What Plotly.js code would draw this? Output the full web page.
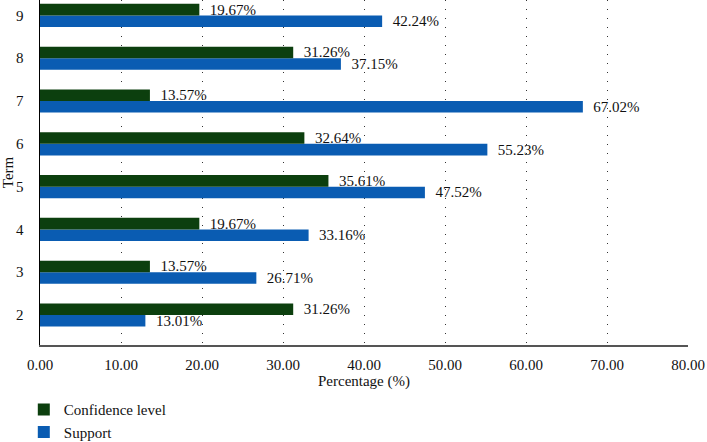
<!DOCTYPE html>
<html>
<head>
<meta charset="utf-8">
<script src="https://cdn.plot.ly/plotly-3.0.1.min.js"></script>
<style>html,body{margin:0;padding:0;background:#fff;}#chart{width:707px;height:442px;}</style>
</head>
<body>
<div id="chart"></div>
<script>
const terms = [2, 3, 4, 5, 6, 7, 8, 9];
const confidence = [31.26, 13.57, 19.67, 35.61, 32.64, 13.57, 31.26, 19.67];
const support = [13.01, 26.71, 33.16, 47.52, 55.23, 67.02, 37.15, 42.24];
const xTicks = [0, 10, 20, 30, 40, 50, 60, 70, 80];

const fontFam = '"Liberation Serif", "DejaVu Serif", serif';

const traces = [
  {
    type: 'bar', orientation: 'h', name: 'Support',
    y: terms, x: support,
    marker: {color: '#0a5cb2'},
    texttemplate: '\u00a0\u00a0%{x:.2f}%', textposition: 'outside', constraintext: 'none',
    textfont: {family: fontFam, size: 15, color: '#111'},
    cliponaxis: false, hoverinfo: 'skip'
  },
  {
    type: 'bar', orientation: 'h', name: 'Confidence level',
    y: terms, x: confidence,
    marker: {color: '#0c3f0e'},
    texttemplate: '\u00a0\u00a0%{x:.2f}%', textposition: 'outside', constraintext: 'none',
    textfont: {family: fontFam, size: 15, color: '#111'},
    cliponaxis: false, hoverinfo: 'skip'
  }
];

const layout = {
  width: 707, height: 442,
  margin: {l: 40, r: 19, t: 0, b: 97, autoexpand: false},
  paper_bgcolor: '#fff', plot_bgcolor: '#fff',
  font: {family: fontFam, size: 15, color: '#111'},
  barmode: 'group', bargap: 0.46, bargroupgap: 0,
  showlegend: true,
  legend: {
    x: -0.025, xanchor: 'left',
    y: -0.14, yanchor: 'top',
    orientation: 'v', traceorder: 'reversed',
    font: {family: fontFam, size: 15, color: '#111'},
    itemwidth: 30, tracegroupgap: 0
  },
  xaxis: {
    range: [0, 80], tickvals: xTicks, tickformat: '.2f', automargin: false,
    showgrid: true, gridcolor: '#333', griddash: '1px,8px', gridwidth: 1,
    zeroline: false, showline: true, linecolor: '#555', linewidth: 1.5,
    ticks: '', ticklabelstandoff: 5,
    title: {text: 'Percentage (%)', font: {family: fontFam, size: 15}, standoff: 3},
    fixedrange: true
  },
  yaxis: {
    range: [1.3, 9.36], tickvals: terms, automargin: false,
    showgrid: false, zeroline: false, showline: true, linecolor: '#000', linewidth: 1.5,
    ticks: '', ticklabelstandoff: 12,
    title: {text: 'Term', font: {family: fontFam, size: 15}, standoff: 6},
    fixedrange: true
  }
};

Plotly.newPlot('chart', traces, layout, {displayModeBar: false, staticPlot: true});
</script>
</body>
</html>
